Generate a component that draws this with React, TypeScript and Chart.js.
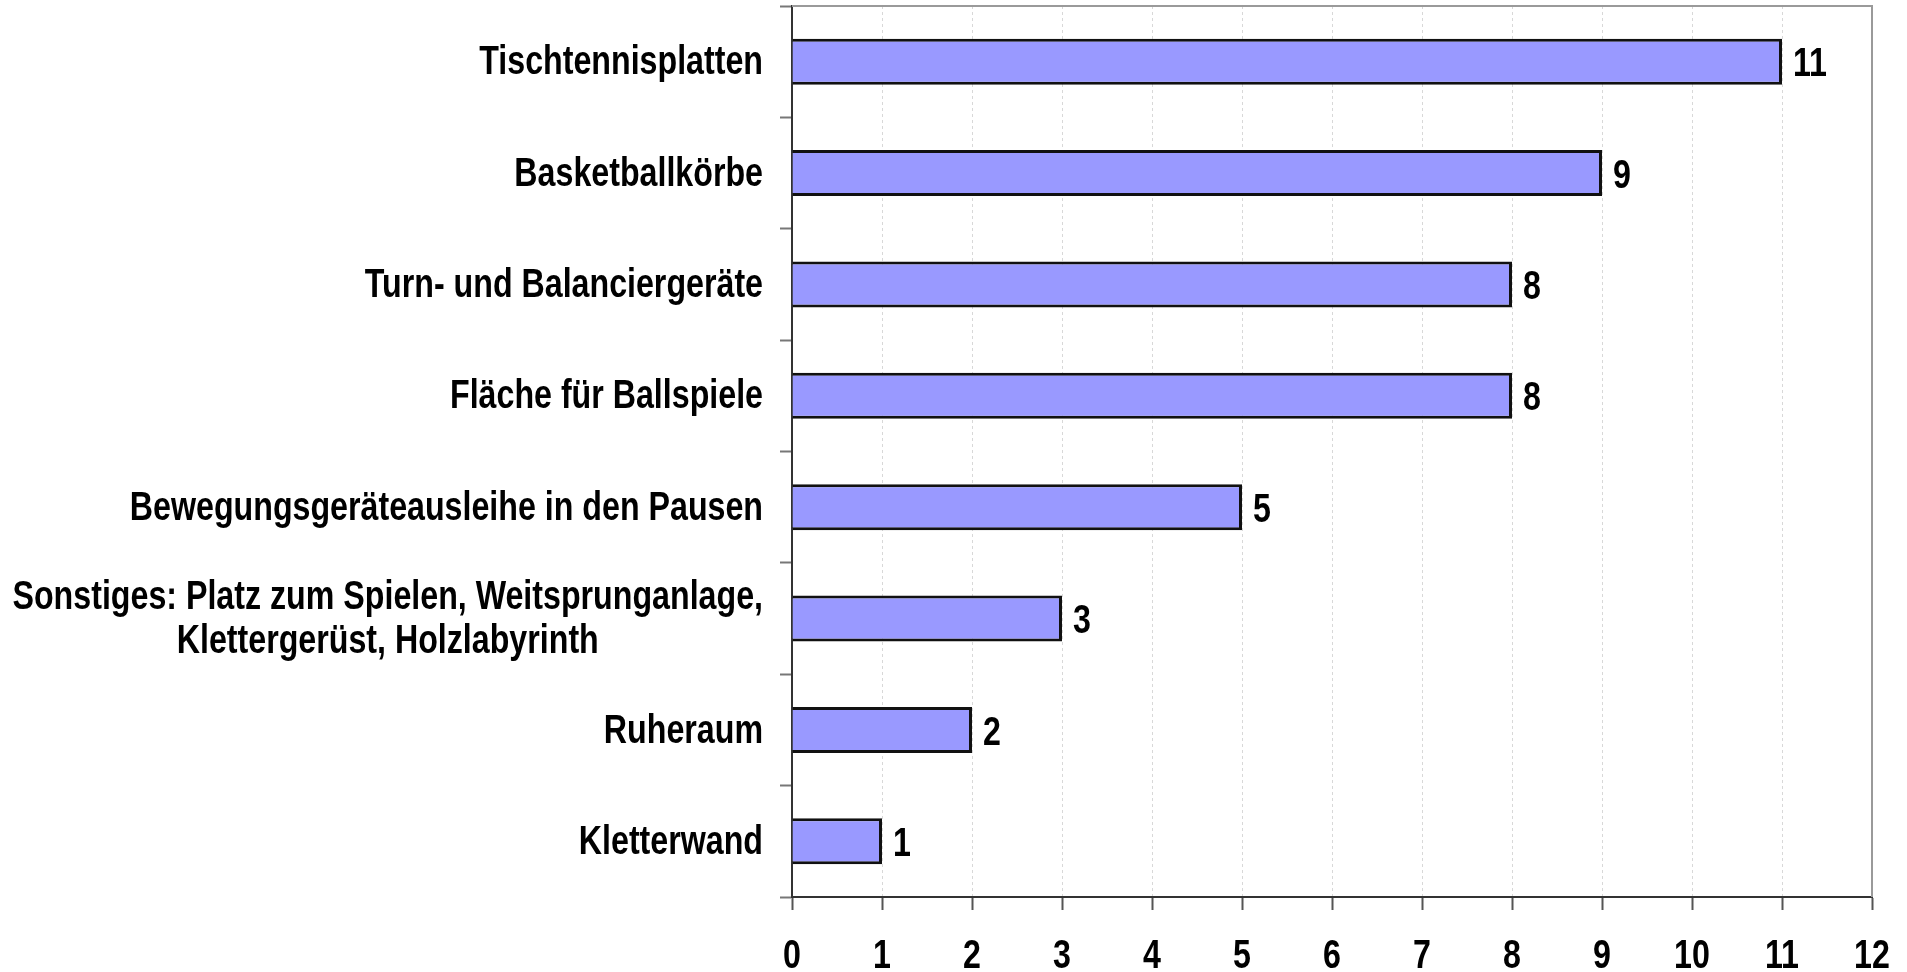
import React, { useEffect, useRef } from "react";
import { Chart, registerables } from "chart.js";

Chart.register(...registerables);

const categories: (string | string[])[] = [
  "Tischtennisplatten",
  "Basketballkörbe",
  "Turn- und Balanciergeräte",
  "Fläche für Ballspiele",
  "Bewegungsgeräteausleihe in den Pausen",
  ["Sonstiges: Platz zum Spielen, Weitsprunganlage,", "Klettergerüst, Holzlabyrinth"],
  "Ruheraum",
  "Kletterwand",
];
const values = [11, 9, 8, 8, 5, 3, 2, 1];
const xTickValues = [0, 1, 2, 3, 4, 5, 6, 7, 8, 9, 10, 11, 12];

const FONT_FAMILY = '"Liberation Sans", Arial, sans-serif';
const FONT_SIZE = 41;
const SCALE_X = 0.785;

function drawText(ctx: CanvasRenderingContext2D, text: string, x: number, y: number, align: CanvasTextAlign) {
  ctx.save();
  ctx.translate(x, y);
  ctx.scale(SCALE_X, 1);
  ctx.textAlign = align;
  ctx.textBaseline = "alphabetic";
  ctx.fillText(text, 0, 0);
  ctx.restore();
}

const labelPlugin = {
  id: "customLabels",
  afterDraw(chart: any) {
    const ctx: CanvasRenderingContext2D = chart.ctx;
    const area = chart.chartArea;
    // top/right frame
    ctx.save();
    ctx.strokeStyle = "#9a9a9a";
    ctx.lineWidth = 2;
    ctx.beginPath();
    ctx.moveTo(area.left, area.top);
    ctx.lineTo(area.right, area.top);
    ctx.lineTo(area.right, area.bottom);
    ctx.stroke();
    ctx.restore();

    ctx.save();
    ctx.font = `bold ${FONT_SIZE}px ${FONT_FAMILY}`;
    ctx.fillStyle = "#000";
    const capHalf = FONT_SIZE * 0.716 / 2;
    // category labels
    const yScale = chart.scales.y;
    const rightEdge = area.left - 29;
    const lineH = 44;
    categories.forEach((cat, i) => {
      const y = yScale.getPixelForTick(i) - 2;
      const lines = Array.isArray(cat) ? cat : [cat];
      const widths = lines.map((l) => ctx.measureText(l).width * SCALE_X);
      const maxW = Math.max(...widths);
      const cx = rightEdge - maxW / 2;
      const startY = y - ((lines.length - 1) * lineH) / 2;
      lines.forEach((l, j) => {
        if (lines.length === 1) drawText(ctx, l, rightEdge, startY + capHalf, "right");
        else drawText(ctx, l, cx, startY + j * lineH + capHalf, "center");
      });
    });
    // value labels
    const meta = chart.getDatasetMeta(0);
    meta.data.forEach((bar: any, i: number) => {
      drawText(ctx, String(values[i]), bar.x + 11, bar.y + capHalf, "left");
    });
    // x tick labels
    const xScale = chart.scales.x;
    xTickValues.forEach((v) => {
      drawText(ctx, String(v), xScale.getPixelForValue(v), 968, "center");
    });
    ctx.restore();
  },
};

export default function App() {
  const ref = useRef<HTMLCanvasElement | null>(null);
  useEffect(() => {
    document.body.style.overflow = "hidden";
    const canvas = ref.current!;
    const chart = new Chart(canvas, {
      type: "bar",
      data: {
        labels: categories as any,
        datasets: [
          {
            data: values,
            backgroundColor: "#9999FF",
            borderColor: "#111111",
            borderWidth: 3,
            barPercentage: 0.413,
            categoryPercentage: 1,
          },
        ],
      },
      options: {
        indexAxis: "y",
        animation: false,
        responsive: false,
        maintainAspectRatio: false,
        layout: { padding: { left: 780, top: 6, right: 35, bottom: 62 } },
        plugins: {
          legend: { display: false },
          tooltip: { enabled: false },
        },
        scales: {
          x: {
            min: 0,
            max: 12,
            afterBuildTicks: (s: any) => {
              s.ticks = xTickValues.map((v) => ({ value: v }));
            },
            grid: {
              color: (c: any) =>
                c.tick && (c.tick.value === 0 || c.tick.value === 12) ? "rgba(0,0,0,0)" : "#d8d8d8",
              lineWidth: 1,
              tickColor: "#555",
              tickLength: 13,
              tickWidth: 2,
            },
            border: { display: true, color: "#333", width: 2, dash: [3, 3] },
            ticks: { display: false },
          },
          y: {
            grid: {
              drawOnChartArea: false,
              offset: true,
              tickLength: 12,
              tickColor: "#777",
              tickWidth: 2,
            },
            border: { display: true, color: "#333", width: 2 },
            ticks: { display: false },
          },
        },
      },
      plugins: [labelPlugin],
    });
    return () => chart.destroy();
  }, []);
  return (
    <div style={{ position: "absolute", left: 0, top: 0, width: 1907, height: 972, background: "#fff" }}>
      <canvas ref={ref} width={1907} height={972} style={{ width: 1907, height: 972, display: "block" }} />
    </div>
  );
}
